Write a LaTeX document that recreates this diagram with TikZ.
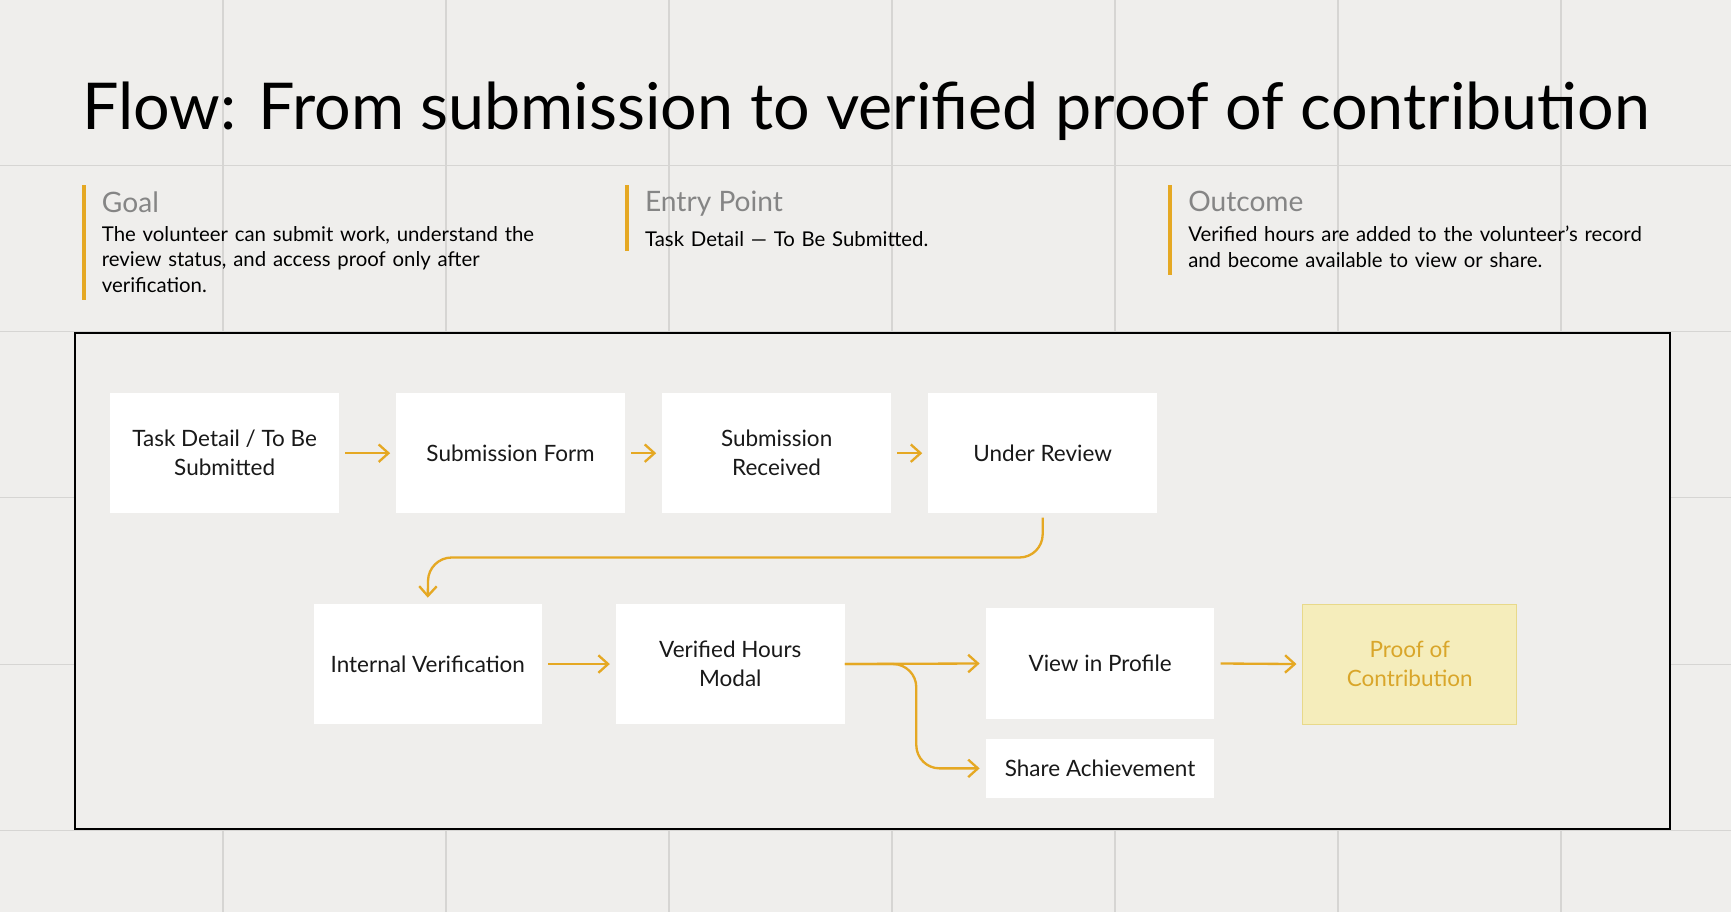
\documentclass[tikz,border=0pt]{standalone}
\usepackage{fontspec}
\setmainfont{Lato}
\usetikzlibrary{arrows.meta,positioning}
\definecolor{paper}{HTML}{EFEEEC}
\definecolor{gridc}{HTML}{D6D5D3}
\definecolor{gold}{HTML}{E5A823}
\definecolor{softgold}{HTML}{F5EDBB}
\definecolor{goldline}{HTML}{E8D98A}
\definecolor{goldtext}{HTML}{D9A62A}
\definecolor{muted}{HTML}{858585}
\tikzset{
  stage/.style={draw=none,fill=white,minimum width=4.14cm,minimum height=2.18cm,align=center,font=\fontsize{11.6}{15}\selectfont,text=black!90},
  goalstage/.style={stage,fill=softgold,draw=goldline,text=goldtext,minimum width=3.88cm},
  flow/.style={draw=gold,line width=1.2pt,-{Straight Barb[length=5pt,width=9pt]},rounded corners=12pt},
  head/.style={anchor=north west,font=\fontsize{14.5}{17}\selectfont,text=muted,inner sep=0pt},
  info/.style={anchor=north west,align=left,font=\fontsize{10.5}{13}\selectfont,inner sep=0pt,text width=#1}
}
\begin{document}
\begin{tikzpicture}[x=0.02cm,y=-0.02cm]
  \fill[paper] (0,0) rectangle (1568,826);
  \useasboundingbox (0,0) rectangle (1568,826);
  % grid
  \foreach \gx in {202,404,606,808,1010,1212,1414}
    \draw[gridc,line width=0.6pt] (\gx,0) -- (\gx,826);
  \foreach \gy in {150,300,451,602,752}
    \draw[gridc,line width=0.6pt] (0,\gy) -- (1568,\gy);
  % title
  \node[anchor=west,inner sep=0pt,font=\fontsize{33.3}{40}\selectfont] (title) at (74,101)
    {Flow: From submission to verified proof of contribution};
  % header blocks
  \draw[gold,line width=2pt] (76,168) -- (76,272);
  \draw[gold,line width=2pt] (568,168) -- (568,227);
  \draw[gold,line width=2pt] (1060,168) -- (1060,249);
  \node[head] (goal) at (92,173) {Goal};
  \node[info=8.2cm,below=7pt of goal.south west,anchor=north west] (goaltxt)
    {The volunteer can submit work, understand the\\review status, and access proof only after\\verification.};
  \node[head] (entry) at (584,173) {Entry Point};
  \node[info=8.4cm,below=7pt of entry.south west,anchor=north west] (entrytxt)
    {Task Detail — To Be Submitted.};
  \node[head] (outc) at (1076,173) {Outcome};
  \node[info=8.6cm,below=7pt of outc.south west,anchor=north west] (outctxt)
    {Verified hours are added to the volunteer’s record\\and become available to view or share.};
  % frame
  \draw[black,line width=1pt,fill=paper] (68,302) rectangle (1513,751);
  % stages
  \node[stage] (task) at (203.5,410.5) {Task Detail / To Be\\Submitted};
  \node[stage] (form) at (462.5,410.5) {Submission Form};
  \node[stage] (recv) at (703.5,410.5) {Submission\\Received};
  \node[stage] (review) at (944.5,410.5) {Under Review};
  \node[stage] (verif) at (387.5,601.5) {Internal Verification};
  \node[stage] (modal) at (661.5,601.5) {Verified Hours\\Modal};
  \node[stage,minimum height=2cm] (profile) at (996.5,601) {View in Profile};
  \node[stage,minimum height=1.08cm] (share) at (996.5,696) {Share Achievement};
  \node[goalstage] (proof) at (1277,601.5) {Proof of\\Contribution};
  % connectors
  \draw[flow] ([xshift=3pt]task.east) -- ([xshift=-3pt]form.west);
  \draw[flow] ([xshift=3pt]form.east) -- ([xshift=-3pt]recv.west);
  \draw[flow] ([xshift=3pt]recv.east) -- ([xshift=-3pt]review.west);
  \draw[flow] ([yshift=-2pt]review.south) |- (388,505) -- ([yshift=3pt]verif.north);
  \draw[flow] ([xshift=3pt]verif.east) -- ([xshift=-3pt]modal.west);
  \draw[flow] (modal.east) -- ([xshift=-3pt]profile.west);
  \draw[flow] (modal.east) -| (830,650) |- ([xshift=-3pt]share.west);
  \draw[flow] ([xshift=3pt]profile.east) -- ([xshift=-3pt]proof.west);
\end{tikzpicture}
\end{document}
